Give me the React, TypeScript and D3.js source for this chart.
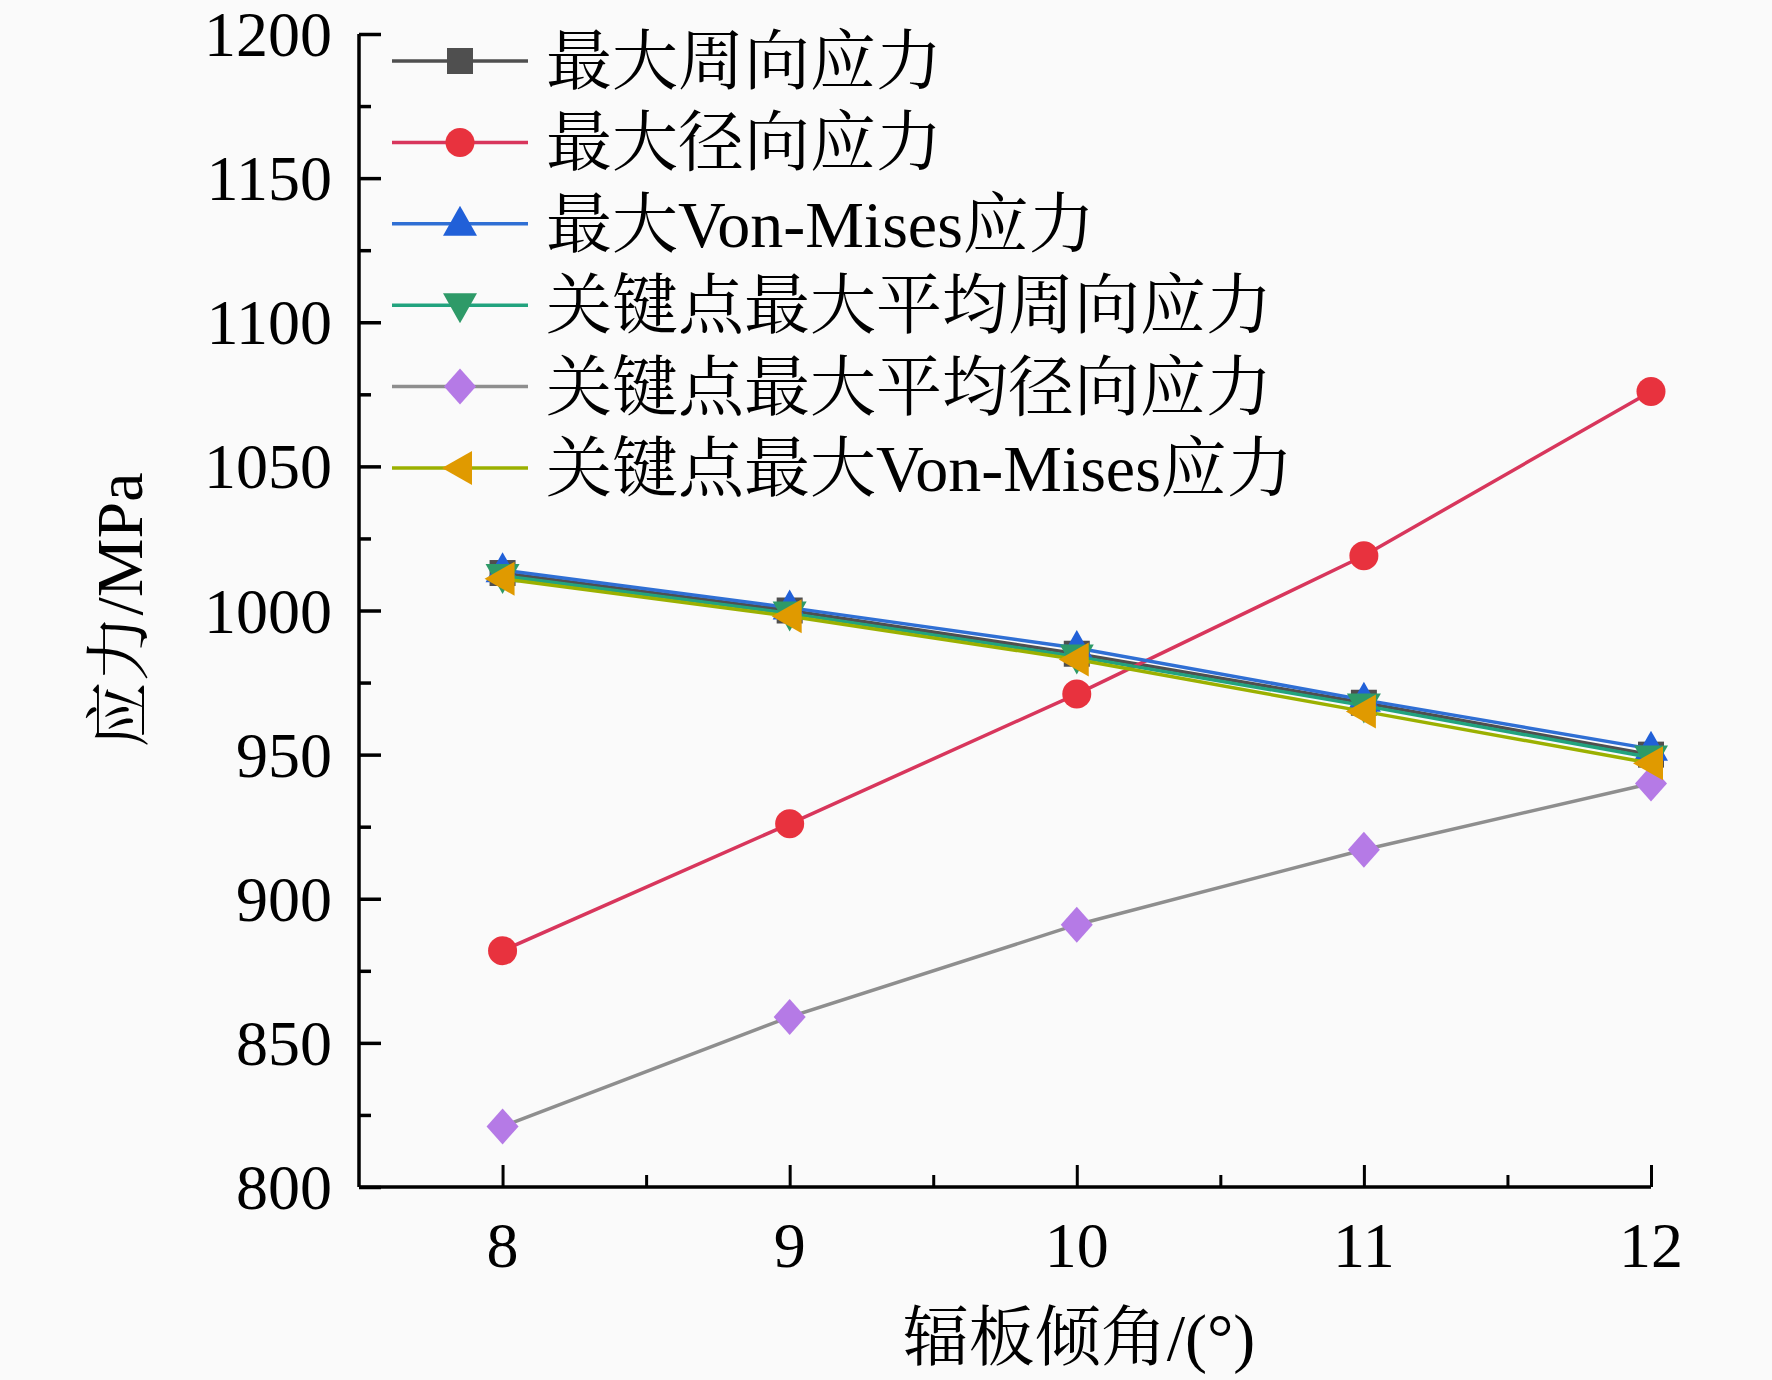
import { useEffect, useRef } from 'react';
import * as d3 from 'd3';

const angles = [8, 9, 10, 11, 12];

const seriesNames = [
  '最大周向应力',
  '最大径向应力',
  '最大Von-Mises应力',
  '关键点最大平均周向应力',
  '关键点最大平均径向应力',
  '关键点最大Von-Mises应力',
];

const hoopMax = [1013, 1000, 985, 968, 950];
const radialMax = [882, 926, 971, 1019, 1076];
const misesMax = [1014, 1001, 987, 969, 952];
const keyHoopAvg = [1012, 999, 984, 967, 949];
const keyRadialAvg = [821, 859, 891, 917, 940];
const keyMises = [1011, 998, 983, 965, 947];

const yTicks = [800, 850, 900, 950, 1000, 1050, 1100, 1150, 1200];
const xTicks = [8, 9, 10, 11, 12];

const lineColors = ['#4f4f4f', '#d8365c', '#2f6fd4', '#22a37e', '#8e8e8e', '#9bb000'];
const markerColors = ['#4f4f4f', '#e8323e', '#2160d8', '#2e9a68', '#b57ae6', '#e09a00'];
const markerShapes = ['square', 'circle', 'up', 'down', 'diamond', 'left'];

const FONT = '"Liberation Serif", "Times New Roman", "Noto Serif CJK SC", "Noto Sans CJK SC", serif';

function markerPath(shape: string) {
  switch (shape) {
    case 'square':
      return 'M-13,-13H13V13H-13Z';
    case 'circle':
      return d3.symbol(d3.symbolCircle, Math.PI * 14.5 * 14.5)()!;
    case 'up':
      return 'M0,-18L17,12H-17Z';
    case 'down':
      return 'M0,18L17,-12H-17Z';
    case 'diamond':
      return 'M0,-18L16,0L0,18L-16,0Z';
    default:
      return 'M-18,0L12,-17V17Z';
  }
}

export default function App() {
  const svgRef = useRef<SVGSVGElement>(null);

  useEffect(() => {
    document.body.style.margin = '0';
    document.body.style.background = '#fafafa';
    if (!svgRef.current) return;

    const width = 1772;
    const height = 1380;
    const margin = { top: 34, right: 121, bottom: 193, left: 359 };
    const innerWidth = width - margin.left - margin.right;
    const innerHeight = height - margin.top - margin.bottom;

    const svg = d3.select(svgRef.current);
    svg.selectAll('*').remove();
    svg.attr('width', width).attr('height', height).style('font-family', FONT);

    svg.append('rect').attr('width', width).attr('height', height).attr('fill', '#fafafa');

    const x = d3.scaleLinear().domain([7.5, 12]).range([0, innerWidth]);
    const y = d3.scaleLinear().domain([800, 1200]).range([innerHeight, 0]);

    const g = svg.append('g').attr('transform', `translate(${margin.left},${margin.top})`);

    // Y axis, ticks point inward
    const yAxis = g
      .append('g')
      .call(
        d3
          .axisRight(y)
          .tickValues(d3.range(800, 1201, 25))
          .tickSize(0)
          .tickFormat(() => '')
      );
    yAxis.select('.domain').remove();
    yAxis
      .selectAll('.tick line')
      .attr('x2', (d: any) => (d % 50 === 0 ? 22 : 12))
      .attr('stroke', '#000')
      .attr('stroke-width', 3.5);

    g.append('line')
      .attr('x1', 0)
      .attr('x2', 0)
      .attr('y1', 0)
      .attr('y2', innerHeight)
      .attr('stroke', '#000')
      .attr('stroke-width', 3.5);

    g.selectAll('.ylab')
      .data(yTicks)
      .enter()
      .append('text')
      .attr('class', 'ylab')
      .attr('x', -27)
      .attr('y', (d) => y(d) + 22)
      .attr('text-anchor', 'end')
      .attr('font-size', 64)
      .text((d) => d);

    // X axis, ticks point inward
    const xAxis = g
      .append('g')
      .attr('transform', `translate(0,${innerHeight})`)
      .call(
        d3
          .axisTop(x)
          .tickValues(d3.range(8, 12.01, 0.5))
          .tickSize(0)
          .tickFormat(() => '')
      );
    xAxis.select('.domain').remove();
    xAxis
      .selectAll('.tick line')
      .attr('y2', (d: any) => (d % 1 === 0 ? -22 : -12))
      .attr('stroke', '#000')
      .attr('stroke-width', 3);

    g.append('line')
      .attr('x1', 0)
      .attr('x2', innerWidth)
      .attr('y1', innerHeight)
      .attr('y2', innerHeight)
      .attr('stroke', '#000')
      .attr('stroke-width', 3.5);

    g.selectAll('.xlab')
      .data(xTicks)
      .enter()
      .append('text')
      .attr('class', 'xlab')
      .attr('x', (d) => x(d))
      .attr('y', innerHeight + 80)
      .attr('text-anchor', 'middle')
      .attr('font-size', 64)
      .text((d) => d);

    // axis titles
    svg
      .append('text')
      .attr('x', 1079)
      .attr('y', 1360)
      .attr('text-anchor', 'middle')
      .attr('font-size', 66)
      .text('辐板倾角/(°)');

    svg
      .append('text')
      .attr('transform', 'translate(142,610) rotate(-90)')
      .attr('text-anchor', 'middle')
      .attr('font-size', 66)
      .text('应力/MPa');

    // series
    const allSeries = [hoopMax, radialMax, misesMax, keyHoopAvg, keyRadialAvg, keyMises];
    const line = d3
      .line<number>()
      .x((_, i) => x(angles[i]))
      .y((d) => y(d));

    allSeries.forEach((values, s) => {
      g.append('path')
        .datum(values)
        .attr('d', line)
        .attr('fill', 'none')
        .attr('stroke', lineColors[s])
        .attr('stroke-width', 3.5);

      g.selectAll(`.m${s}`)
        .data(values)
        .enter()
        .append('path')
        .attr('class', `m${s}`)
        .attr('transform', (d, i) => `translate(${x(angles[i])},${y(d)})`)
        .attr('d', markerPath(markerShapes[s]))
        .attr('fill', markerColors[s]);
    });

    // legend
    const legend = svg.append('g');
    seriesNames.forEach((name, i) => {
      const ly = 61 + i * 81.4;
      legend
        .append('line')
        .attr('x1', 392)
        .attr('x2', 528)
        .attr('y1', ly)
        .attr('y2', ly)
        .attr('stroke', lineColors[i])
        .attr('stroke-width', 3.5);
      legend
        .append('path')
        .attr('transform', `translate(460,${ly})`)
        .attr('d', markerPath(markerShapes[i]))
        .attr('fill', markerColors[i]);
      legend
        .append('text')
        .attr('x', 546)
        .attr('y', ly + 23)
        .attr('font-size', 66)
        .text(name);
    });
  }, []);

  return <svg ref={svgRef} />;
}
